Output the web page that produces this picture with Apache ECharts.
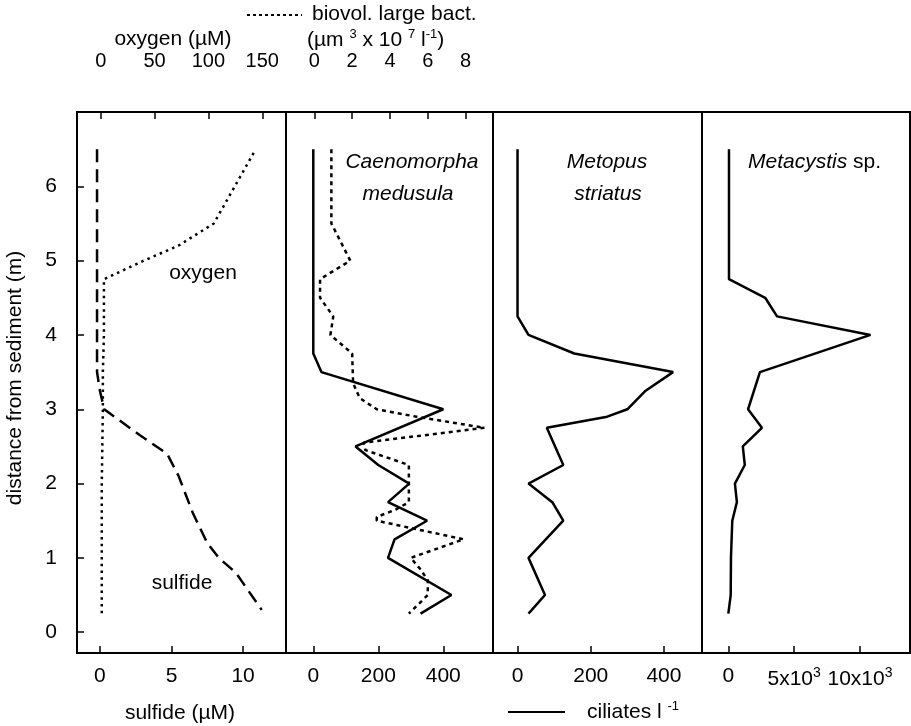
<!DOCTYPE html>
<html>
<head>
<meta charset="utf-8">
<script src="https://cdn.jsdelivr.net/npm/echarts@6/dist/echarts.min.js"></script>
<style>
  html, body { margin: 0; padding: 0; background: #fff; }
  #chart { width: 911px; height: 726px; }
</style>
</head>
<body>
<div id="chart"></div>
<script>
// depth (m above sediment) is the y value of every point
const oxygen = [[142, 6.45], [105, 5.5], [72, 5.2], [40, 5.0], [3, 4.75], [3, 4.5], [3, 4.0], [2, 3.5], [2, 3.0], [1, 2.0], [1, 1.0], [1, 0.25]];
const sulfide = [[-0.2, 6.5], [-0.2, 4.75], [-0.2, 3.5], [0, 3.25], [0.3, 3.0], [2.8, 2.65], [4.7, 2.4], [5.5, 2.1], [6.5, 1.6], [7.5, 1.2], [8.3, 1.0], [9.5, 0.8], [11.3, 0.3]];
const caenomorpha = [[0, 6.5], [0, 3.75], [25, 3.5], [400, 3.0], [130, 2.5], [200, 2.25], [295, 2.0], [230, 1.75], [350, 1.5], [250, 1.25], [230, 1.0], [425, 0.5], [330, 0.25]];
const biovol = [[0.9, 6.5], [0.9, 5.5], [1.9, 5.0], [0.3, 4.75], [0.3, 4.5], [1.0, 4.25], [0.85, 4.0], [2.0, 3.75], [2.05, 3.35], [2.4, 3.15], [3.3, 3.0], [5.4, 2.9], [9.0, 2.75], [2.6, 2.55], [2.7, 2.45], [5.0, 2.25], [5.0, 1.75], [4.3, 1.65], [3.3, 1.55], [3.3, 1.5], [7.9, 1.25], [5.1, 1.0], [5.6, 0.85], [6.0, 0.7], [6.0, 0.5], [5.0, 0.25]];
const metopus = [[0, 6.5], [0, 4.25], [30, 4.0], [155, 3.75], [425, 3.5], [350, 3.25], [300, 3.0], [245, 2.9], [80, 2.75], [125, 2.25], [30, 2.0], [95, 1.75], [125, 1.5], [30, 1.0], [75, 0.5], [30, 0.25]];
const metacystis = [[50, 6.5], [50, 4.75], [2800, 4.5], [3700, 4.25], [10800, 4.0], [2400, 3.5], [1500, 3.0], [2550, 2.75], [1100, 2.5], [1250, 2.25], [500, 2.0], [650, 1.75], [300, 1.5], [200, 1.0], [180, 0.5], [0, 0.25]];

const depthTicks = [0, 1, 2, 3, 4, 5, 6];
const sulfideTicks = [0, 5, 10];
const oxygenTicks = [0, 50, 100, 150];
const ciliateTicks = [0, 200, 400];
const biovolTicks = [0, 2, 4, 6, 8];
const metacystisTicks = [0, 5000, 10000];

const FONT = 'Liberation Sans, Arial, sans-serif';
const chart = echarts.init(document.getElementById('chart'));

// panel placement
const panels = [
  { left: 77, width: 209 },
  { left: 286, width: 207 },
  { left: 493, width: 209 },
  { left: 702, width: 208 }
];

const grids = panels.map(p => ({
  left: p.left, width: p.width, top: 112, height: 541,
  show: true, borderColor: '#000', borderWidth: 2, backgroundColor: 'transparent'
}));

function xAxis(gridIndex, position, min, max, ticks, fmt) {
  return {
    type: 'value', gridIndex, position, min, max,
    axisLine: { show: true, onZero: false, lineStyle: { color: '#000', width: 2 } },
    splitLine: { show: false },
    axisTick: { show: true, inside: true, length: 7, customValues: ticks, lineStyle: { color: '#000', width: 1.5 } },
    axisLabel: {
      show: true, customValues: ticks, color: '#000', fontFamily: FONT, fontSize: position === 'top' ? 20 : 21,
      margin: position === 'top' ? 41 : 13,
      formatter: fmt || (v => String(v)),
      rich: {
        n: { fontFamily: FONT, fontSize: 21, color: '#000' },
        s: { fontFamily: FONT, fontSize: 14, color: '#000', padding: [0, 0, 12, 0] }
      }
    }
  };
}

const yAxes = panels.map((p, i) => ({
  type: 'value', gridIndex: i, min: -0.28, max: 7,
  axisLine: { show: true, onZero: false, lineStyle: { color: '#000', width: 2 } },
  splitLine: { show: false },
  axisTick: { show: i === 0, inside: true, length: 7, customValues: depthTicks, lineStyle: { color: '#000', width: 1.5 } },
  axisLabel: { show: i === 0, customValues: depthTicks, color: '#000', fontFamily: FONT, fontSize: 21, margin: 20 }
}));

const line = (name, data, xi, yi, type, width) => ({
  name, type: 'line', data, xAxisIndex: xi, yAxisIndex: yi,
  showSymbol: false, symbol: 'none', silent: true, animation: false,
  lineStyle: { color: '#000', width: width || 2.5, type: type || 'solid', cap: 'butt' },
  z: 3
});

const txt = (x, y, text, extra, rotation) => ({
  type: 'text', x, y, silent: true, rotation: rotation || 0,
  style: Object.assign({ text, fill: '#000', font: '21px ' + FONT, align: 'center', verticalAlign: 'middle' }, extra || {})
});

chart.setOption({
  animation: false,
  grid: grids,
  xAxis: [
    xAxis(0, 'bottom', -1.6, 13, sulfideTicks),
    xAxis(0, 'top', -22, 172, oxygenTicks),
    xAxis(1, 'bottom', -84, 553, ciliateTicks),
    xAxis(1, 'top', -1.5, 9.45, biovolTicks),
    xAxis(2, 'bottom', -67, 504, ciliateTicks),
    xAxis(3, 'bottom', -2000, 13800, metacystisTicks, v => v === 0 ? '{n|0}' : '{n|' + (v / 1000) + 'x10}{s|3}')
  ],
  yAxis: yAxes,
  series: [
    line('oxygen', oxygen, 1, 0, [2.5, 4.2]),
    line('sulfide', sulfide, 0, 0, [13, 7]),
    line('biovol. large bact.', biovol, 3, 1, [4, 4]),
    line('Caenomorpha medusula', caenomorpha, 2, 1),
    line('Metopus striatus', metopus, 4, 2),
    line('Metacystis sp.', metacystis, 5, 3)
  ],
  graphic: [
    // top headers
    { type: 'line', silent: true, shape: { x1: 247, y1: 15, x2: 302, y2: 15 }, style: { stroke: '#000', lineWidth: 2, lineDash: [3, 3] } },
    txt(312, 14, 'biovol. large bact.', { align: 'left' }),
    txt(173, 39, 'oxygen (µM)'),
    txt(307, 40, '{a|(µm }{s|3}{a| x 10 }{s|7}{a| l}{s|-1}{a|)}', {
      align: 'left',
      rich: {
        a: { font: '21px ' + FONT, fill: '#000' },
        s: { font: '13px ' + FONT, fill: '#000', padding: [0, 0, 12, 0] }
      }
    }),
    // in-panel labels
    txt(203, 273, 'oxygen'),
    txt(182, 583, 'sulfide'),
    txt(412, 162, 'Caenomorpha', { font: 'italic 21px ' + FONT }),
    txt(408, 194, 'medusula', { font: 'italic 21px ' + FONT }),
    txt(607, 162, 'Metopus', { font: 'italic 21px ' + FONT }),
    txt(608, 194, 'striatus', { font: 'italic 21px ' + FONT }),
    txt(748, 162, '{i|Metacystis}{r| sp.}', {
      align: 'left',
      rich: {
        i: { font: 'italic 21px ' + FONT, fill: '#000' },
        r: { font: '21px ' + FONT, fill: '#000' }
      }
    }),
    // bottom titles
    txt(180, 713, 'sulfide (µM)'),
    { type: 'line', silent: true, shape: { x1: 508, y1: 712, x2: 565, y2: 712 }, style: { stroke: '#000', lineWidth: 2 } },
    txt(587, 712, '{a|ciliates l }{s|-1}', {
      align: 'left',
      rich: {
        a: { font: '21px ' + FONT, fill: '#000' },
        s: { font: '13px ' + FONT, fill: '#000', padding: [0, 0, 12, 0] }
      }
    }),
    // y axis title
    txt(15, 378, 'distance from sediment (m)', null, Math.PI / 2)
  ]
});
</script>
</body>
</html>
